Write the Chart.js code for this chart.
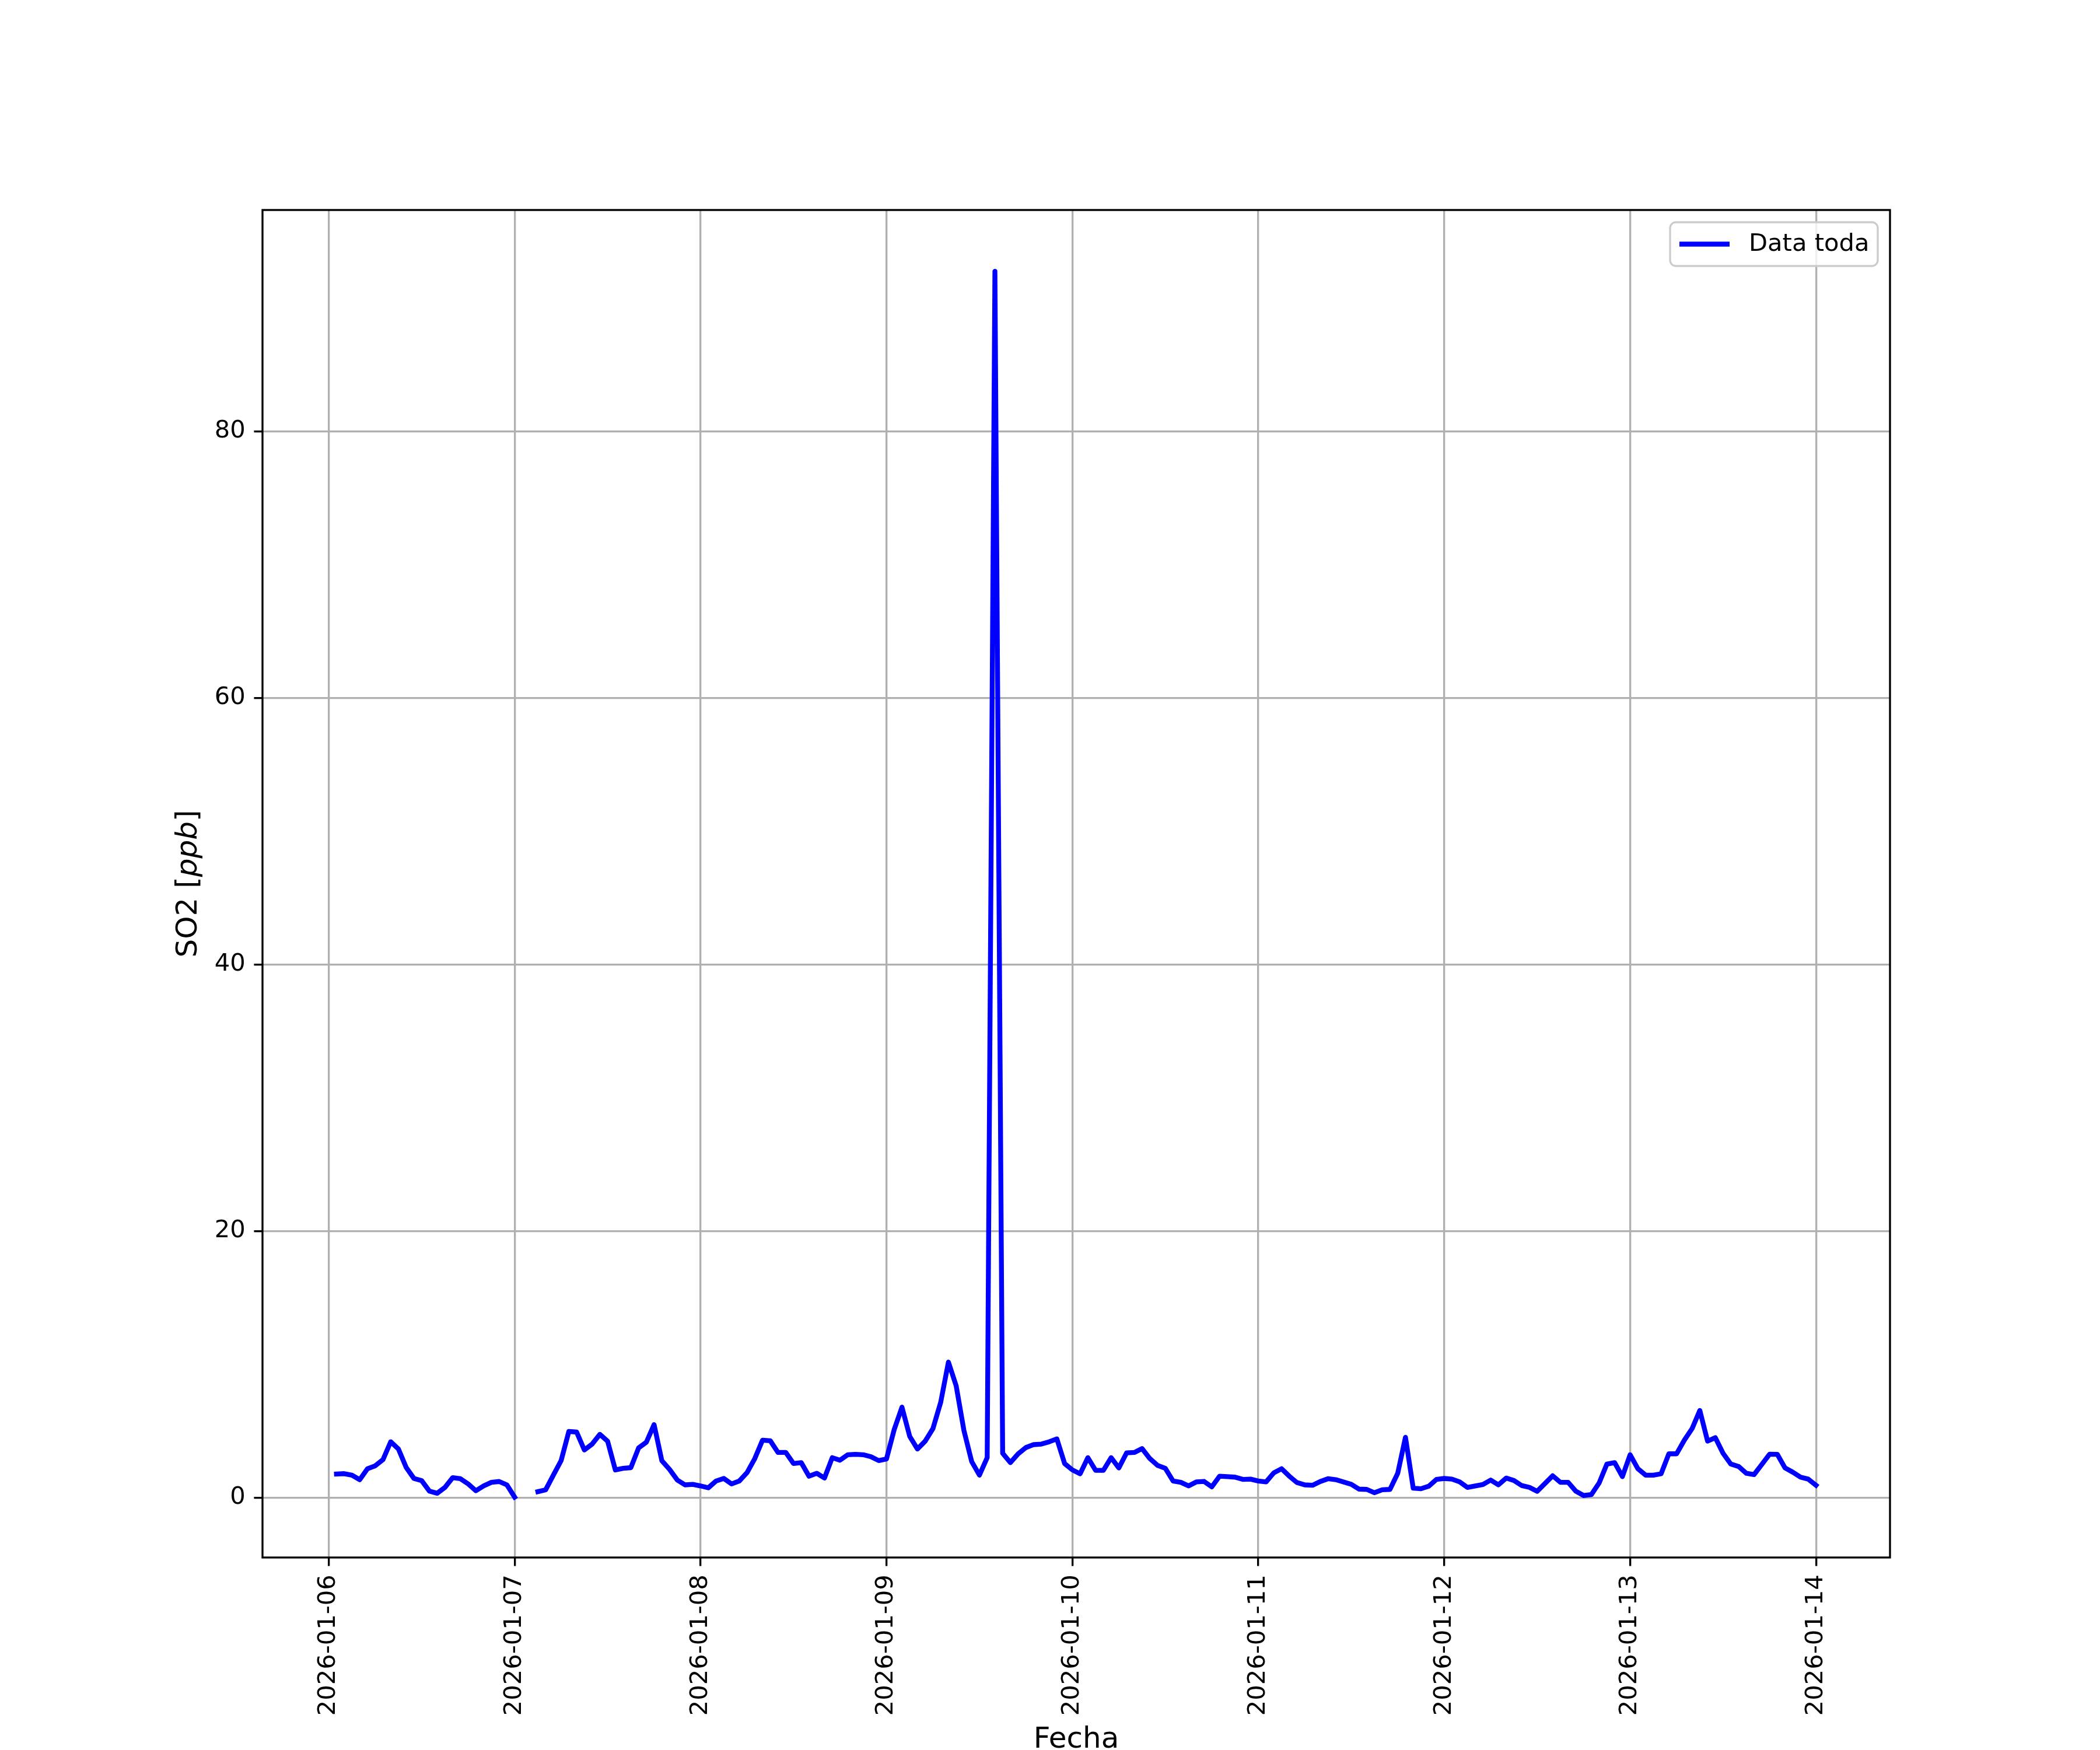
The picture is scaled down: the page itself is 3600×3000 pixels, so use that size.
<!DOCTYPE html>
<html>
<head>
<meta charset="utf-8">
<script src="https://cdn.jsdelivr.net/npm/chart.js@4"></script>
<style>
  body { margin: 0; background: #fff; }
  canvas { display: block; }
</style>
</head>
<body>
<canvas id="so2Chart" width="3600" height="3000"></canvas>
<script>
// hourly SO2 values, one array per day (01:00 ... 24:00)
const day06 = [1.76, 1.79, 1.68, 1.34, 2.16, 2.38, 2.84, 4.18, 3.64, 2.26, 1.43, 1.27, 0.48, 0.32, 0.76, 1.49, 1.41, 1.02, 0.51, 0.87, 1.14, 1.2, 0.95, 0.03];
const day07 = [null, null, 0.44, 0.58, 1.68, 2.77, 4.96, 4.91, 3.57, 4.01, 4.74, 4.23, 2.07, 2.19, 2.24, 3.72, 4.15, 5.47, 2.77, 2.11, 1.31, 0.95, 0.99, 0.87];
const day08 = [0.73, 1.24, 1.43, 1.02, 1.24, 1.87, 2.92, 4.3, 4.26, 3.38, 3.38, 2.55, 2.62, 1.6, 1.82, 1.46, 2.99, 2.8, 3.21, 3.24, 3.21, 3.06, 2.77, 2.89];
const day09 = [5.1, 6.78, 4.59, 3.64, 4.23, 5.17, 7.14, 10.16, 8.38, 5.03, 2.7, 1.68, 2.99, 92.0, 3.32, 2.62, 3.28, 3.75, 3.97, 4.01, 4.18, 4.4, 2.55, 2.07];
const day10 = [1.78, 2.99, 2.04, 2.04, 2.99, 2.22, 3.35, 3.38, 3.67, 2.92, 2.41, 2.19, 1.24, 1.14, 0.87, 1.17, 1.21, 0.8, 1.6, 1.57, 1.53, 1.36, 1.38, 1.24];
const day11 = [1.17, 1.85, 2.16, 1.6, 1.12, 0.95, 0.92, 1.2, 1.41, 1.34, 1.17, 0.99, 0.63, 0.61, 0.36, 0.58, 0.61, 1.82, 4.52, 0.7, 0.66, 0.85, 1.36, 1.43];
const day12 = [1.38, 1.17, 0.76, 0.87, 0.98, 1.31, 0.95, 1.46, 1.28, 0.9, 0.76, 0.47, 1.05, 1.63, 1.14, 1.14, 0.47, 0.15, 0.22, 1.09, 2.51, 2.62, 1.57, 3.21];
const day13 = [2.16, 1.68, 1.68, 1.78, 3.28, 3.28, 4.3, 5.17, 6.53, 4.23, 4.49, 3.32, 2.51, 2.33, 1.82, 1.72, 2.48, 3.25, 3.24, 2.22, 1.9, 1.53, 1.38, 0.92];

// x axis: hours since 2026-01-06 00:00
const xTickHours = [0, 24, 48, 72, 96, 120, 144, 168, 192];
const xTickLabels = ["2026-01-06", "2026-01-07", "2026-01-08", "2026-01-09", "2026-01-10", "2026-01-11", "2026-01-12", "2026-01-13", "2026-01-14"];
const yTicks = [0, 20, 40, 60, 80];

const days = [day06, day07, day08, day09, day10, day11, day12, day13];
const so2Points = [];
days.forEach((vals, d) => {
  vals.forEach((v, i) => so2Points.push({ x: d * 24 + i + 1, y: v }));
});

Chart.defaults.font.family = "'DejaVu Sans', sans-serif";
Chart.defaults.color = "#000";

const PT = 300 / 72; // matplotlib points -> px at 300 dpi

// frame, axis labels and legend drawn like matplotlib
const mplExtras = {
  id: "mplExtras",
  afterDatasetsDraw(chart) {
    const { ctx, chartArea } = chart;
    ctx.save();
    // spines
    ctx.strokeStyle = "#000";
    ctx.lineWidth = 0.8 * PT;
    ctx.strokeRect(chartArea.left, chartArea.top,
      chartArea.right - chartArea.left, chartArea.bottom - chartArea.top);

    // legend
    const ds = chart.data.datasets[0];
    const bx = 2863, by = 381, bw = 356, bh = 75, r = 10;
    ctx.beginPath();
    ctx.roundRect(bx, by, bw, bh, r);
    ctx.fillStyle = "rgba(255,255,255,0.8)";
    ctx.fill();
    ctx.strokeStyle = "#cccccc";
    ctx.lineWidth = 0.8 * PT;
    ctx.stroke();
    ctx.beginPath();
    ctx.moveTo(bx + 16, by + bh / 2);
    ctx.lineTo(bx + 102, by + bh / 2);
    ctx.strokeStyle = ds.borderColor;
    ctx.lineWidth = ds.borderWidth;
    ctx.lineCap = "butt";
    ctx.stroke();
    ctx.fillStyle = "#000";
    ctx.font = (10 * PT) + "px 'DejaVu Sans'";
    ctx.textBaseline = "middle";
    ctx.textAlign = "left";
    ctx.fillText(ds.label, bx + 135, by + bh / 2 + 1);

    // x axis label
    ctx.font = (12 * PT) + "px 'DejaVu Sans'";
    ctx.textAlign = "center";
    ctx.textBaseline = "top";
    ctx.fillText("Fecha", (chartArea.left + chartArea.right) / 2, 2958);

    // y axis label: SO2 [ppb] with italic ppb
    const parts = [
      { t: "SO2 [", f: "normal" },
      { t: "ppb", f: "italic" },
      { t: "]", f: "normal" },
    ];
    let total = 0;
    parts.forEach((p) => {
      ctx.font = p.f + " " + (12 * PT) + "px 'DejaVu Sans'";
      p.w = ctx.measureText(p.t).width;
      total += p.w;
    });
    ctx.translate(324, (chartArea.top + chartArea.bottom) / 2);
    ctx.rotate(-Math.PI / 2);
    ctx.textAlign = "left";
    ctx.textBaseline = "middle";
    let xx = -total / 2;
    parts.forEach((p) => {
      ctx.font = p.f + " " + (12 * PT) + "px 'DejaVu Sans'";
      ctx.fillText(p.t, xx, 0);
      xx += p.w;
    });
    ctx.restore();
  },
};

const ctx = document.getElementById("so2Chart").getContext("2d");
new Chart(ctx, {
  type: "line",
  data: {
    datasets: [
      {
        label: "Data toda",
        data: so2Points,
        borderColor: "#0000ff",
        borderWidth: 2 * PT,
        borderCapStyle: "square",
        borderJoinStyle: "round",
        pointRadius: 0,
        tension: 0,
        fill: false,
        spanGaps: false,
      },
    ],
  },
  options: {
    responsive: false,
    animation: false,
    devicePixelRatio: 1,
    layout: {
      padding: { left: 0, top: 360, right: 360, bottom: 0 },
    },
    plugins: {
      legend: { display: false },
      tooltip: { enabled: false },
    },
    scales: {
      x: {
        type: "linear",
        min: -8.55,
        max: 201.55,
        afterFit: (scale) => {
          scale.height = 330;
        },
        afterBuildTicks: (scale) => {
          scale.ticks = xTickHours.map((v) => ({ value: v }));
        },
        ticks: {
          autoSkip: false,
          minRotation: 90,
          maxRotation: 90,
          padding: 3.5 * PT,
          font: { size: 10 * PT },
          callback: (value) => {
            const i = xTickHours.indexOf(value);
            return i >= 0 ? xTickLabels[i] : "";
          },
        },
        grid: {
          color: "#b0b0b0",
          lineWidth: 0.8 * PT,
          tickColor: "#000",
          tickLength: 3.5 * PT,
          tickWidth: 0.8 * PT,
        },
        border: { display: false },
      },
      y: {
        type: "linear",
        min: -4.5,
        max: 96.6,
        afterFit: (scale) => {
          scale.width = 450;
        },
        afterBuildTicks: (scale) => {
          scale.ticks = yTicks.map((v) => ({ value: v }));
        },
        ticks: {
          padding: 3.5 * PT,
          font: { size: 10 * PT },
        },
        grid: {
          color: "#b0b0b0",
          lineWidth: 0.8 * PT,
          tickColor: "#000",
          tickLength: 3.5 * PT,
          tickWidth: 0.8 * PT,
        },
        border: { display: false },
      },
    },
  },
  plugins: [mplExtras],
});
</script>
</body>
</html>
